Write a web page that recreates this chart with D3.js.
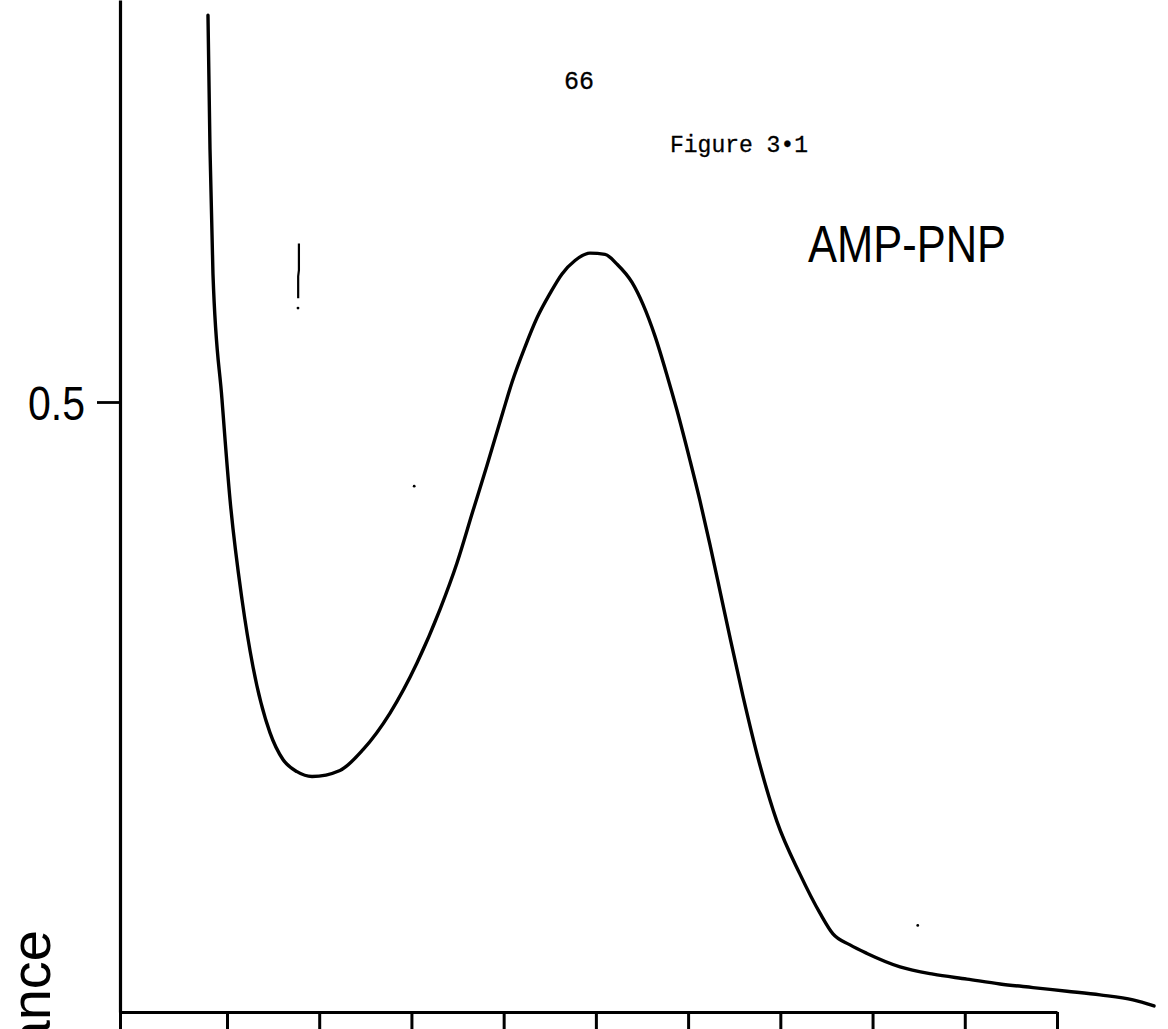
<!DOCTYPE html>
<html>
<head>
<meta charset="utf-8">
<script src="https://cdn.jsdelivr.net/npm/d3@7/dist/d3.min.js"></script>
<style>
  html, body { margin: 0; padding: 0; background: #fff; }
  svg { display: block; }
</style>
</head>
<body>
<svg id="chart" width="1168" height="1029"></svg>
<script>
// ---- data ----
const wavelength = [217.94, 218.16, 218.48, 219.46, 220.33, 221.63, 222.82, 224.66, 226.07, 227.59, 229.22,
  232.25, 234.75, 237.68, 240.60, 243.10, 244.94, 246.68, 248.19, 249.93, 250.90, 252.31, 253.62, 255.03,
  256.33, 257.74, 259.36, 260.99, 262.29, 263.92, 265.11, 266.41, 267.71, 268.80, 270.21, 271.29, 272.37,
  273.46, 274.54, 275.95, 277.80, 279.64, 282.13, 284.30, 285.71, 287.56, 289.40, 292.98, 296.56, 300.24,
  303.82, 307.40, 311.09, 314.67, 318.24, 320.52];
const absorbance = [0.817, 0.707, 0.605, 0.502, 0.420, 0.338, 0.283, 0.229, 0.207, 0.197, 0.193,
  0.198, 0.215, 0.245, 0.286, 0.330, 0.368, 0.411, 0.448, 0.492, 0.516, 0.545, 0.569, 0.589,
  0.605, 0.616, 0.622, 0.621, 0.613, 0.598, 0.580, 0.554, 0.522, 0.493, 0.452, 0.419, 0.383,
  0.345, 0.307, 0.259, 0.202, 0.156, 0.113, 0.081, 0.064, 0.055, 0.048, 0.037, 0.031, 0.027,
  0.023, 0.020, 0.017, 0.014, 0.010, 0.005];
const xOrigin = 208.4;               // wavelength at the y-axis
const xTicks = [220, 230, 240, 250, 260, 270, 280, 290, 300, 310];
const yTicks = [0.5];
const yTickLabels = ["0.5"];
const markWavelength = [227.8, 227.8, 227.72, 227.72];
const markAbsorbance = [0.630, 0.608, 0.603, 0.585];
const speckWavelength = [227.7, 294.9, 240.3];
const speckAbsorbance = [0.577, 0.071, 0.431];
const yTitle = "Absorbance";
const label = "AMP-PNP";
const figLabel = "Figure 3\u20221";
const pageNo = "66";

// ---- scales ----
const svg = d3.select("#chart");
const x = d3.scaleLinear().domain([xOrigin, 310]).range([120, 1057]);
const y = d3.scaleLinear().domain([0, 0.5]).range([1012, 402]);
const yTop = y.invert(0);
const yAxisScale = d3.scaleLinear().domain([0, yTop]).range([1012, 0]);

const ink = "#000";
// ---- axes ----
const xAxis = d3.axisBottom(x).tickValues([xOrigin, ...xTicks]).tickFormat("")
  .tickSizeInner(20).tickSizeOuter(0);
const gx = svg.append("g").attr("transform", "translate(0,1012)").call(xAxis);
gx.select(".domain").attr("stroke", ink).attr("stroke-width", 3.2);
gx.selectAll(".tick line").attr("stroke", ink).attr("stroke-width", 3);

const yAxis = d3.axisLeft(yAxisScale).tickValues(yTicks)
  .tickFormat((d, i) => yTickLabels[i]).tickSizeInner(23).tickSizeOuter(0).tickPadding(12);
const gy = svg.append("g").attr("transform", "translate(120,0)").call(yAxis);
gy.select(".domain").attr("stroke", ink).attr("stroke-width", 3.2);
gy.selectAll(".tick line").attr("stroke", ink).attr("stroke-width", 2.8);
gy.selectAll(".tick text")
  .attr("font-family", "'Liberation Sans', Arial, sans-serif")
  .attr("font-size", 48).attr("fill", ink).attr("dy", "0.36em")
  .attr("textLength", 57).attr("lengthAdjust", "spacingAndGlyphs");

// ---- curve ----
const pts = wavelength.map((w, i) => [w, absorbance[i]]);
const line = d3.line().x(d => x(d[0])).y(d => y(d[1])).curve(d3.curveMonotoneX);
svg.append("path").datum(pts).attr("d", line)
  .attr("fill", "none").attr("stroke", ink).attr("stroke-width", 3.4)
  .attr("stroke-linejoin", "round").attr("stroke-linecap", "round");

// small vertical pen mark and specks
const markPts = markWavelength.map((w, i) => [w, markAbsorbance[i]]);
svg.append("path").datum(markPts)
  .attr("d", d3.line().x(d => x(d[0])).y(d => y(d[1])))
  .attr("fill", "none").attr("stroke", ink).attr("stroke-width", 2.2);
svg.selectAll("circle.speck").data(speckWavelength).join("circle")
  .attr("class", "speck")
  .attr("cx", d => x(d)).attr("cy", (d, i) => y(speckAbsorbance[i])).attr("r", 1.4).attr("fill", ink);

// ---- texts ----
svg.append("text").text(yTitle)
  .attr("transform", "translate(50,930) rotate(-90)")
  .attr("text-anchor", "end")
  .attr("font-family", "'Liberation Sans', Arial, sans-serif").attr("font-size", 56).attr("fill", ink);

svg.append("text").text(label)
  .attr("x", 808).attr("y", 262)
  .attr("font-family", "'Liberation Sans', Arial, sans-serif").attr("font-size", 52)
  .attr("textLength", 198).attr("lengthAdjust", "spacingAndGlyphs").attr("fill", ink);

svg.append("text").text(figLabel)
  .attr("x", 670).attr("y", 152)
  .attr("font-family", "'Liberation Mono', 'Courier New', monospace").attr("font-size", 23)
  .attr("fill", ink).attr("stroke", ink).attr("stroke-width", 0.3);

svg.append("text").text(pageNo)
  .attr("x", 564).attr("y", 89)
  .attr("font-family", "'Liberation Mono', 'Courier New', monospace").attr("font-size", 25)
  .attr("fill", ink).attr("stroke", ink).attr("stroke-width", 0.3);
</script>
</body>
</html>
